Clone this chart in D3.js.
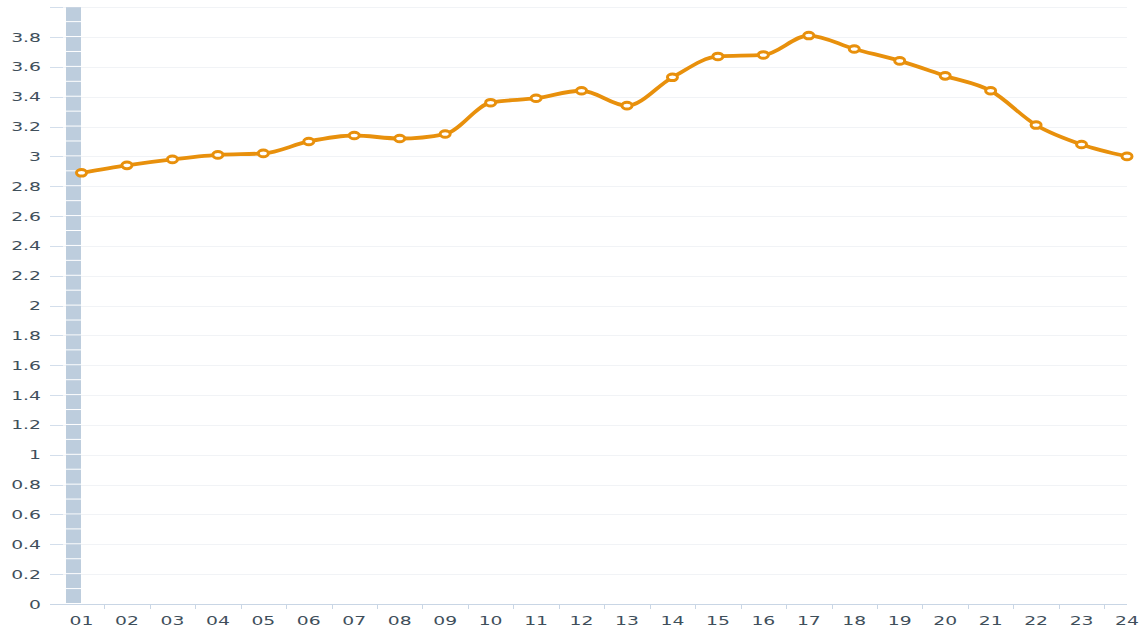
<!DOCTYPE html>
<html>
<head>
<meta charset="utf-8">
<script src="https://cdn.jsdelivr.net/npm/d3@7"></script>
<style>
html,body{margin:0;padding:0;background:#fff;}
svg{display:block;}
text{font-family:"DejaVu Sans",sans-serif;font-size:12.5px;fill:#3f4f5b;}
</style>
</head>
<body>
<svg id="chart" width="1142" height="629"></svg>
<script>
const categories = ["01","02","03","04","05","06","07","08","09","10","11","12","13","14","15","16","17","18","19","20","21","22","23","24"];
const values = [2.89,2.94,2.98,3.01,3.02,3.10,3.14,3.12,3.15,3.36,3.39,3.44,3.34,3.53,3.67,3.68,3.81,3.72,3.64,3.54,3.44,3.21,3.08,3.00];
const yTicks = [0,0.2,0.4,0.6,0.8,1,1.2,1.4,1.6,1.8,2,2.2,2.4,2.6,2.8,3,3.2,3.4,3.6,3.8];
const yMax = 4;
const barValue = [4];
const barSegment = 0.1;

const svg = d3.select("#chart");
const x = d3.scalePoint().domain(categories).range([81.5, 1127]);
const y = d3.scaleLinear().domain([0, yMax]).range([604, 7.2]);
const plotLeft = 63, plotRight = 1127, tickLeft = 50;
const stretch = 1.5;

// gridlines
const allTicks = yTicks.concat([yMax]);
svg.append("g").selectAll("line").data(allTicks).join("line")
  .attr("x1", plotLeft).attr("x2", plotRight)
  .attr("y1", d => Math.round(y(d)) + 0.5).attr("y2", d => Math.round(y(d)) + 0.5)
  .attr("stroke", "#f1f3f6").attr("stroke-width", 1);
// y ticks
svg.append("g").selectAll("line").data(allTicks).join("line")
  .attr("x1", tickLeft).attr("x2", plotLeft)
  .attr("y1", d => Math.round(y(d)) + 0.5).attr("y2", d => Math.round(y(d)) + 0.5)
  .attr("stroke", "#d3deeb").attr("stroke-width", 1);
// y labels
svg.append("g").selectAll("text").data(yTicks).join("text")
  .attr("transform", d => `translate(41,${y(d)}) scale(${stretch},1)`)
  .attr("text-anchor", "end").attr("dy", "0.36em")
  .text(d => d3.format("~g")(d));

// pale bar (segmented)
const bandW = 15;
const segs = d3.range(0, barValue[0] - 1e-9, barSegment);
svg.append("g").selectAll("rect").data(segs).join("rect")
  .attr("x", x(categories[0]) - bandW - 0.5)
  .attr("width", bandW)
  .attr("y", d => y(d + barSegment))
  .attr("height", d => y(d) - y(d + barSegment) - 1)
  .attr("fill", "#bdcddd");

// x axis line
svg.append("line").attr("x1", tickLeft).attr("x2", plotRight)
  .attr("y1", 604.5).attr("y2", 604.5).attr("stroke", "#c9d6e5").attr("stroke-width", 1);
// x ticks at midpoints
const mids = categories.slice(0, -1).map((c, i) => (x(c) + x(categories[i + 1])) / 2);
svg.append("g").selectAll("line").data(mids).join("line")
  .attr("x1", d => Math.round(d) + 0.5).attr("x2", d => Math.round(d) + 0.5)
  .attr("y1", 604).attr("y2", 609)
  .attr("stroke", "#c9d6e5").attr("stroke-width", 1);
// x labels
svg.append("g").selectAll("text").data(categories).join("text")
  .attr("transform", d => `translate(${x(d)},625) scale(${stretch},1)`)
  .attr("text-anchor", "middle")
  .text(d => d);

// line
const line = d3.line().x((d, i) => x(categories[i])).y(d => y(d)).curve(d3.curveMonotoneX);
svg.append("path").datum(values)
  .attr("d", line).attr("fill", "none")
  .attr("stroke", "#e8900c").attr("stroke-width", 3.8)
  .attr("stroke-linejoin", "round").attr("stroke-linecap", "round");
// markers
svg.append("g").selectAll("ellipse").data(values).join("ellipse")
  .attr("cx", (d, i) => x(categories[i])).attr("cy", d => y(d))
  .attr("rx", 5).attr("ry", 3.3)
  .attr("fill", "#fff").attr("stroke", "#e8900c").attr("stroke-width", 3);
</script>
</body>
</html>
